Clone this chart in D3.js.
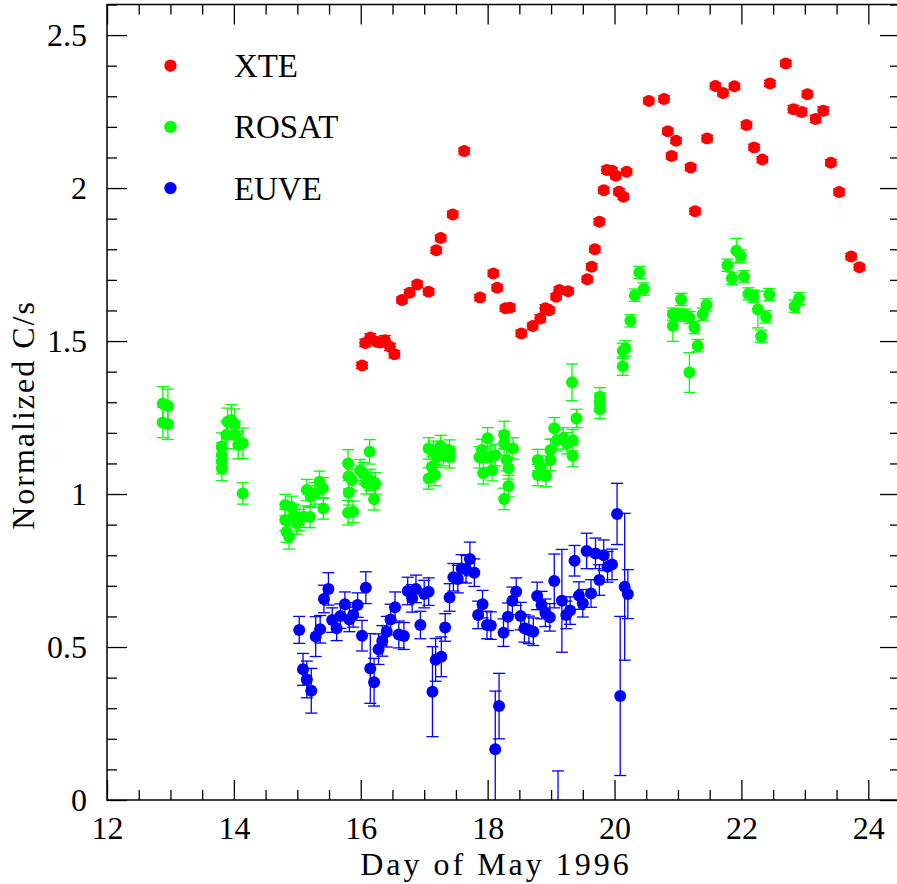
<html>
<head>
  <title>XTE ROSAT EUVE</title>
</head>
<script src='https://d3js.org/d3.v7.min.js'></script>
<style>
  body {margin: 0; background: white;}
  text {font-family: "Liberation Serif", serif; font-size: 32px; fill: black;}
</style>
<body onload='init()'>
<svg width=897 height=884></svg>
<script>
// XTE
var xteDay = [16.02,16.07,16.15,16.25,16.31,16.38,16.46,16.53,16.65,16.77,16.89,17.07,17.19,17.26,17.45,17.63,17.88,18.09,18.15,18.28,18.35,18.53,18.71,18.83,18.91,18.97,19.08,19.13,19.27,19.57,19.64,19.69,19.76,19.83,19.88,19.96,20.02,20.07,20.14,20.19,20.54,20.78,20.84,20.90,20.97,21.20,21.27,21.46,21.59,21.71,21.89,22.08,22.20,22.33,22.45,22.70,22.82,22.95,23.04,23.17,23.29,23.41,23.54,23.73,23.86];
var xteRate = [1.420,1.494,1.512,1.498,1.495,1.503,1.481,1.457,1.634,1.658,1.685,1.661,1.797,1.837,1.914,2.121,1.642,1.721,1.674,1.607,1.609,1.525,1.549,1.574,1.607,1.601,1.645,1.667,1.663,1.702,1.743,1.800,1.890,1.993,2.059,2.057,2.040,1.988,1.972,2.053,2.285,2.291,2.186,2.105,2.155,2.067,1.924,2.162,2.334,2.311,2.333,2.206,2.133,2.093,2.342,2.407,2.258,2.249,2.307,2.226,2.253,2.083,1.987,1.776,1.741];
var xteErr = [0.010,0.012,0.012,0.012,0.012,0.015,0.012,0.012,0.010,0.010,0.010,0.010,0.010,0.010,0.010,0.010,0.010,0.010,0.010,0.010,0.012,0.010,0.010,0.012,0.012,0.010,0.010,0.010,0.010,0.010,0.010,0.010,0.010,0.010,0.012,0.010,0.010,0.010,0.010,0.010,0.010,0.010,0.010,0.010,0.010,0.010,0.010,0.010,0.010,0.010,0.010,0.010,0.010,0.010,0.010,0.010,0.012,0.012,0.010,0.012,0.012,0.010,0.010,0.010,0.010];

// ROSAT
var rosatDay = [12.88,12.96,12.88,12.96,13.81,13.81,13.81,13.81,13.88,13.90,13.96,14.01,14.02,14.07,14.14,14.14,14.81,14.81,14.83,14.87,14.91,14.94,14.99,15.03,15.10,15.15,15.20,15.21,15.28,15.35,15.40,15.41,15.80,15.81,15.81,15.80,15.88,15.86,15.99,16.04,16.09,16.14,16.15,16.21,16.23,17.07,17.07,17.12,17.15,17.17,17.20,17.26,17.30,17.40,17.40,17.87,17.91,17.93,18.00,18.04,18.07,18.12,18.26,18.26,18.30,18.33,18.40,18.33,18.26,18.79,18.79,18.83,18.92,18.99,18.99,19.05,19.09,19.19,19.25,19.34,19.34,19.33,19.40,19.77,19.77,19.77,20.13,20.13,20.17,20.25,20.32,20.39,20.46,20.92,20.92,20.99,21.05,21.11,21.18,21.26,21.18,21.31,21.39,21.45,21.78,21.85,21.92,21.99,22.04,22.11,22.19,22.26,22.31,22.39,22.44,22.84,22.91];
var rosatRate = [1.296,1.288,1.234,1.228,1.084,1.106,1.128,1.155,1.193,1.236,1.242,1.228,1.193,1.160,1.166,1.002,0.964,0.915,0.877,0.860,0.958,0.931,0.904,0.915,0.926,1.013,0.925,0.991,1.002,1.040,1.019,0.953,1.100,1.057,1.004,0.939,0.942,1.046,1.078,1.068,1.035,1.138,1.046,0.983,1.035,1.149,1.051,1.089,1.138,1.062,1.122,1.157,1.127,1.142,1.120,1.120,1.144,1.068,1.182,1.122,1.078,1.127,1.193,1.166,1.111,1.084,1.149,1.026,0.984,1.111,1.062,1.089,1.059,1.111,1.144,1.215,1.176,1.182,1.166,1.176,1.124,1.365,1.247,1.318,1.300,1.277,1.418,1.468,1.476,1.566,1.650,1.724,1.670,1.549,1.588,1.585,1.636,1.585,1.577,1.544,1.397,1.485,1.588,1.618,1.748,1.705,1.795,1.778,1.710,1.654,1.647,1.603,1.516,1.579,1.652,1.614,1.639];
var rosatErr = [0.055,0.055,0.050,0.050,0.040,0.040,0.040,0.045,0.045,0.045,0.050,0.050,0.045,0.045,0.050,0.035,0.035,0.035,0.035,0.040,0.035,0.035,0.035,0.035,0.035,0.035,0.035,0.035,0.035,0.035,0.035,0.035,0.045,0.040,0.040,0.040,0.035,0.035,0.035,0.035,0.035,0.040,0.035,0.035,0.035,0.035,0.035,0.035,0.035,0.035,0.035,0.035,0.035,0.035,0.035,0.035,0.035,0.035,0.035,0.035,0.035,0.035,0.045,0.040,0.035,0.035,0.035,0.035,0.035,0.035,0.035,0.035,0.035,0.035,0.035,0.035,0.035,0.035,0.035,0.035,0.035,0.060,0.030,0.030,0.030,0.030,0.030,0.025,0.025,0.020,0.020,0.020,0.020,0.050,0.020,0.020,0.020,0.020,0.020,0.020,0.065,0.020,0.020,0.020,0.020,0.020,0.040,0.020,0.020,0.020,0.020,0.060,0.020,0.020,0.020,0.020,0.020];

// EUVE
var euveDay = [15.03,15.09,15.15,15.22,15.29,15.36,15.42,15.49,15.55,15.62,15.68,15.75,15.82,15.88,15.95,16.02,16.08,16.15,16.21,16.28,16.34,16.41,16.47,16.54,16.60,16.68,16.74,16.81,16.87,16.94,17.00,17.07,17.13,17.18,17.27,17.33,17.40,17.46,17.53,17.59,17.66,17.72,17.79,17.85,17.92,17.99,18.05,18.12,18.18,18.25,18.32,18.39,18.45,18.52,18.58,18.65,18.72,18.78,18.85,18.91,18.98,19.05,19.11,19.17,19.24,19.30,19.37,19.44,19.50,19.56,19.63,19.70,19.76,19.83,19.89,19.96,20.04,20.09,20.16,20.21];
var euveRate = [0.556,0.427,0.394,0.357,0.534,0.558,0.657,0.690,0.588,0.561,0.601,0.640,0.590,0.605,0.637,0.537,0.694,0.430,0.385,0.493,0.520,0.550,0.590,0.630,0.541,0.536,0.683,0.659,0.690,0.572,0.673,0.681,0.354,0.458,0.468,0.564,0.662,0.728,0.722,0.757,0.754,0.788,0.743,0.605,0.640,0.572,0.570,0.166,0.307,0.547,0.599,0.651,0.681,0.601,0.561,0.556,0.550,0.667,0.637,0.612,0.597,0.716,-0.030,0.651,0.605,0.619,0.782,0.668,0.643,0.814,0.675,0.806,0.719,0.800,0.762,0.770,0.935,0.340,0.697,0.673];
var euveErr = [0.044,0.052,0.060,0.073,0.065,0.045,0.045,0.053,0.040,0.040,0.040,0.040,0.040,0.040,0.040,0.050,0.052,0.114,0.078,0.050,0.050,0.050,0.050,0.050,0.044,0.044,0.045,0.045,0.045,0.045,0.045,0.045,0.147,0.070,0.065,0.045,0.045,0.045,0.045,0.045,0.045,0.055,0.045,0.045,0.045,0.045,0.045,0.190,0.107,0.045,0.045,0.045,0.045,0.045,0.045,0.045,0.045,0.045,0.045,0.045,0.045,0.088,0.125,0.168,0.045,0.045,0.050,0.045,0.045,0.058,0.045,0.050,0.050,0.050,0.050,0.050,0.100,0.260,0.240,0.080];

var legendNames = ["XTE", "ROSAT", "EUVE"];
var legendY = [2.4, 2.2, 2.0];
var colors = ["#ff0000", "#00ff00", "#0000ff"];

var xMajor = [12,14,16,18,20,22,24];
var yMajor = [0,0.5,1,1.5,2,2.5];

function init() {
  var svg = d3.select("svg");
  var x = d3.scaleLinear().domain([12,24.5]).range([107,900]);
  var y = d3.scaleLinear().domain([0,2.6]).range([800,4.5]);

  var xMinor = d3.range(12,24.51,0.5).filter(function(v){ return v % 2 != 0; });
  var yMinor = d3.range(0,2.61,0.1).map(function(v){ return +v.toFixed(1); }).filter(function(v){ return Math.round(v*10) % 5 != 0; });

  svg.append("defs").append("clipPath").attr("id","plot")
    .append("rect").attr("x",107).attr("y",4.5).attr("width",793).attr("height",795.5);

  var series = [
    [xteDay, xteRate, xteErr],
    [rosatDay, rosatRate, rosatErr],
    [euveDay, euveRate, euveErr]
  ];

  var plot = svg.append("g").attr("clip-path","url(#plot)");
  series.forEach(function(s, k) {
    var pts = s[0].map(function(d,i){ return {x:d, y:s[1][i], e:s[2][i]}; });
    var g = plot.append("g").attr("stroke", colors[k]).attr("stroke-width",1.3).attr("fill", colors[k]);
    var eb = g.selectAll(null).data(pts).enter().append("g");
    eb.append("line").attr("x1",function(d){return x(d.x);}).attr("x2",function(d){return x(d.x);})
      .attr("y1",function(d){return y(d.y-d.e);}).attr("y2",function(d){return y(d.y+d.e);});
    eb.append("line").attr("x1",function(d){return x(d.x)-6;}).attr("x2",function(d){return x(d.x)+6;})
      .attr("y1",function(d){return y(d.y+d.e);}).attr("y2",function(d){return y(d.y+d.e);});
    eb.append("line").attr("x1",function(d){return x(d.x)-6;}).attr("x2",function(d){return x(d.x)+6;})
      .attr("y1",function(d){return y(d.y-d.e);}).attr("y2",function(d){return y(d.y-d.e);});
    g.selectAll(null).data(pts).enter().append("circle")
      .attr("cx",function(d){return x(d.x);}).attr("cy",function(d){return y(d.y);})
      .attr("r",6).attr("stroke","none");
  });

  // legend, placed in data coordinates
  var leg = svg.append("g");
  legendNames.forEach(function(n,i) {
    leg.append("circle").attr("cx",x(13)).attr("cy",y(legendY[i])).attr("r",6.2).attr("fill",colors[i]);
    leg.append("text").attr("x",x(14)).attr("y",y(legendY[i])).attr("dy","0.35em")
      .style("font-size","33px").text(n);
  });

  // axes: ticks inward on all four sides
  function ticks(axis, vals, len) {
    return axis.tickValues(vals).tickSizeInner(-len).tickSizeOuter(0);
  }
  var axes = svg.append("g");
  axes.append("g").attr("transform","translate(0,800)").call(ticks(d3.axisBottom(x),xMajor,20).tickPadding(16).tickFormat(d3.format("d")));
  axes.append("g").attr("transform","translate(0,800)").call(ticks(d3.axisBottom(x),xMinor,10).tickFormat(""));
  axes.append("g").attr("transform","translate(0,4.5)").call(ticks(d3.axisTop(x),xMajor,20).tickFormat(""));
  axes.append("g").attr("transform","translate(0,4.5)").call(ticks(d3.axisTop(x),xMinor,10).tickFormat(""));
  axes.append("g").attr("transform","translate(107,0)").call(ticks(d3.axisLeft(y),yMajor,20).tickPadding(20).tickFormat(d3.format("~g")));
  axes.append("g").attr("transform","translate(107,0)").call(ticks(d3.axisLeft(y),yMinor,10).tickFormat(""));
  axes.append("g").attr("transform","translate(900,0)").call(ticks(d3.axisRight(y),yMajor,20).tickFormat(""));
  axes.append("g").attr("transform","translate(900,0)").call(ticks(d3.axisRight(y),yMinor,10).tickFormat(""));
  axes.selectAll(".domain").remove();
  axes.selectAll(".tick line").attr("stroke","black").attr("stroke-width",1.3);
  axes.selectAll(".tick text").attr("font-family",null).attr("font-size",null).style("font-size","32px").attr("fill","black");

  svg.append("rect").attr("x",107).attr("y",4.5).attr("width",793).attr("height",795.5)
    .attr("fill","none").attr("stroke","black").attr("stroke-width",1.5);

  svg.append("text").attr("x",496).attr("y",875).attr("text-anchor","middle")
    .style("letter-spacing","3px").text("Day of May 1996");
  svg.append("text").attr("transform","translate(34,415) rotate(-90)").attr("text-anchor","middle")
    .style("letter-spacing","2px").text("Normalized C/s");
}
</script>
</body>
</html>
